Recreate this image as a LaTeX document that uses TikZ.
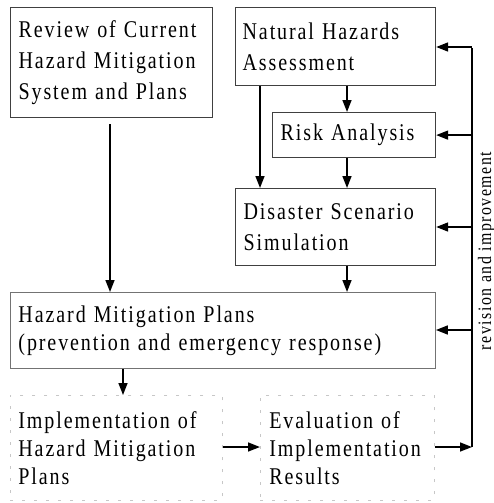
\documentclass[tikz,border=0pt]{standalone}
\usepackage{fontspec}
\setmainfont{Liberation Serif}[FakeStretch=0.835, LetterSpace=7.9]
\usetikzlibrary{arrows.meta}
\begin{document}
\begin{tikzpicture}[x=1pt,y=-1pt,
  box/.style={draw=black!75, line width=1.2pt, anchor=north west, align=left, inner xsep=8pt, inner ysep=0pt,
    font=\fontsize{24}{31}\selectfont},
  midbox/.style={box, draw=black!55, line width=0.9pt, font=\fontsize{24}{28}\selectfont},
  faintbox/.style={box, draw=black!22, line width=0.7pt, dash pattern=on 3pt off 9pt, font=\fontsize{24}{28}\selectfont},
  arr/.style={line width=1.6pt, -{Triangle[length=12pt,width=9pt]}},
  ln/.style={line width=1.6pt}]
\useasboundingbox (0,0) rectangle (494,503);
\node[box, minimum width=202pt, minimum height=110pt, text width=186pt] (review) at (10,7)
  {Review of Current\\Hazard Mitigation\\System and Plans};
\node[box, minimum width=200pt, minimum height=78pt, text width=186pt, inner xsep=7pt] (nha) at (235,7)
  {Natural Hazards\\Assessment};
\node[box, minimum width=163pt, minimum height=45pt, text width=147pt] (risk) at (272,112)
  {Risk Analysis};
\node[box, minimum width=200pt, minimum height=77pt, text width=184pt] (dss) at (235,188)
  {Disaster Scenario\\Simulation};
\node[midbox, minimum width=425pt, minimum height=76pt, text width=409pt] (hmp) at (10,292)
  {Hazard Mitigation Plans\\(prevention and emergency response)};
\node[faintbox, minimum width=212pt, minimum height=105pt, text width=196pt] (impl) at (10,395)
  {Implementation of\\Hazard Mitigation\\Plans};
\node[faintbox, minimum width=174pt, minimum height=105pt, text width=156pt, inner xsep=9pt] (eval) at (260,395)
  {Evaluation of\\Implementation\\Results};
% x positions
\coordinate (xa) at (110,0);
\coordinate (xb) at (347,0);
\coordinate (xc) at (260,0);
\coordinate (xd) at (123,0);
\coordinate (rbot) at (472,447);
\coordinate (rtop) at (472,47);
% connectors
\draw[arr, shorten <=6pt] (review.south -| xa) -- (hmp.north -| xa);
\draw[arr] (nha.south -| xb) -- (risk.north -| xb);
\draw[arr] (nha.south -| xc) -- (dss.north -| xc);
\draw[arr] (risk.south -| xb) -- (dss.north -| xb);
\draw[arr] (dss.south -| xb) -- (hmp.north -| xb);
\draw[arr] (hmp.south -| xd) -- (impl.north -| xd);
\draw[arr] (impl.east |- rbot) -- (eval.west |- rbot);
\draw[arr] (eval.east |- rbot) -- (rbot);
\draw[ln] (rbot) -- ([yshift=-0.8pt]rtop);
\draw[arr] (rtop) -- (nha.east |- rtop);
\draw[arr] (rtop |- risk.east) -- (risk.east);
\draw[arr] (rtop |- 0,227) -- (dss.east |- 0,227);
\draw[arr] (rtop |- 0,330) -- (hmp.east |- 0,330);
\node[rotate=90, font=\fontsize{19}{20}\selectfont, anchor=base] (lbl) at (491,251) {revision and improvement};
\end{tikzpicture}
\end{document}
